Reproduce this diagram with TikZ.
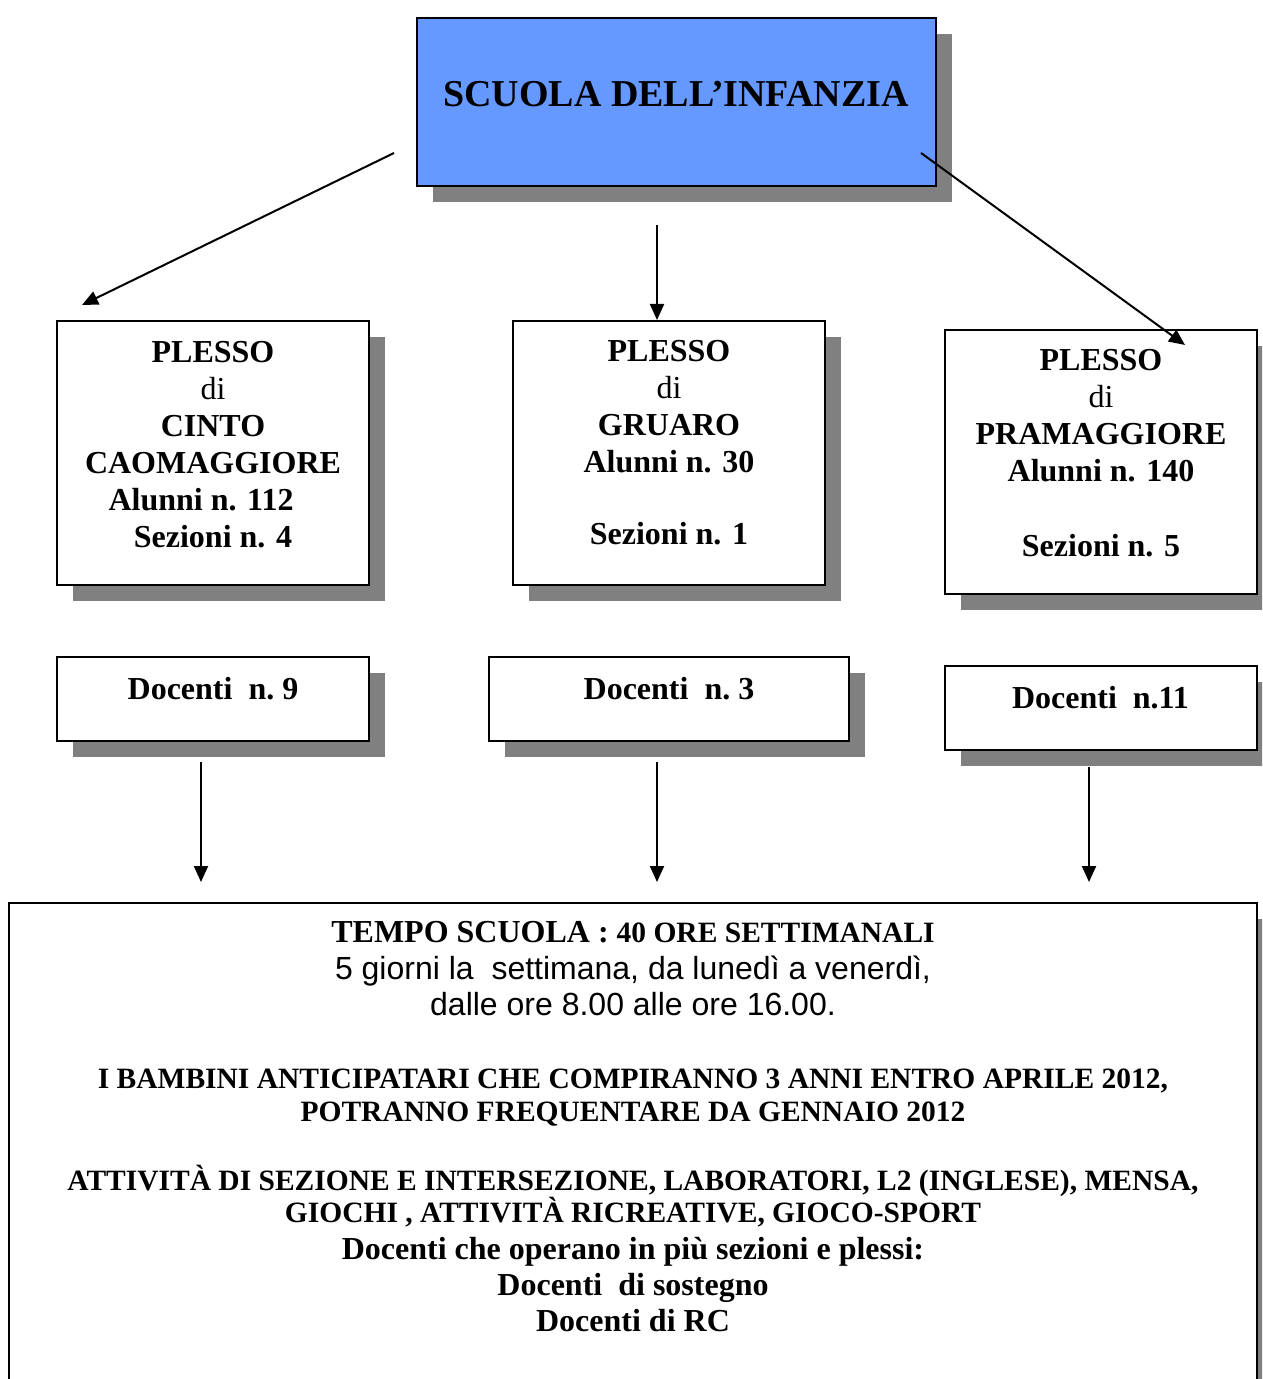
\documentclass[tikz,border=0pt]{standalone}
\usepackage{fontspec}
\setmainfont{Liberation Serif}
\newfontfamily\arialf{Liberation Sans}
\usetikzlibrary{arrows.meta,shadows}
\definecolor{topblue}{RGB}{102,153,255}
\definecolor{shgray}{RGB}{128,128,128}
\tikzset{
  boxnode/.style={draw, line width=1pt, fill=white, inner sep=0pt, rectangle,
    drop shadow={shadow xshift=8pt, shadow yshift=-8pt, fill=shgray, opacity=1}},
  txt/.style={inner sep=0pt, align=center, anchor=base,
    font=\fontsize{16}{18.5}\selectfont\bfseries},
  conn/.style={line width=1pt, -{Triangle[length=8pt,width=7pt]}},
}
\begin{document}
\begin{tikzpicture}[x=0.5pt, y=-0.5pt]
\path[use as bounding box, clip] (0,0) rectangle (1262,1379);
\fill[white] (0,0) rectangle (1262,1379);

% top box
\node[boxnode, fill=topblue, minimum width=259.5pt, minimum height=84pt] (top) at (676.5,102) {};
\node[txt, font=\fontsize{19}{22}\selectfont\bfseries] (topt) at (676,107) {SCUOLA DELL’INFANZIA};

% plesso boxes
\node[boxnode, minimum width=156pt, minimum height=132pt] (p1) at (213,453) {};
\node[boxnode, minimum width=156pt, minimum height=132pt] (p2) at (669,453) {};
\node[boxnode, minimum width=156pt, minimum height=132pt] (p3) at (1101,462) {};

% (anchor=base of a multi-line node = baseline of its last line)
\node[txt] (p1t) at (213,547) {PLESSO\\{\mdseries di}\\CINTO\\CAOMAGGIORE\\Alunni n. 112\kern12pt\relax\\Sezioni n. 4};
\node[txt] (p2t) at (669,544) {PLESSO\\{\mdseries di}\\GRUARO\\Alunni n. 30\\[17.5pt]Sezioni n. 1};
\node[txt] (p3t) at (1101,556) {PLESSO\\{\mdseries di}\\PRAMAGGIORE\\Alunni n. 140\\[19pt]Sezioni n. 5};

% docenti boxes
\node[boxnode, minimum width=156pt, minimum height=42pt] (d1) at (213,699) {};
\node[boxnode, minimum width=180pt, minimum height=42pt] (d2) at (669,699) {};
\node[boxnode, minimum width=156pt, minimum height=42pt] (d3) at (1101,708) {};

\node[txt] (d1t) at (213,699.5) {Docenti~~n.~9};
\node[txt] (d2t) at (669,699.5) {Docenti~~n.~3};
\node[txt] (d3t) at (1100.5,708.5) {Docenti~~n.11};

% bottom box
\node[boxnode, minimum width=624pt, minimum height=258.5pt] (bt) at (633,1161.5) {};
\node[txt] (btt) at (633,1331) {%
{\fontsize{16}{18.5}\selectfont TEMPO SCUOLA : }{\fontsize{14.75}{16}\selectfont 40 ORE SETTIMANALI}\\
{\arialf\mdseries 5 giorni la\ \ settimana, da lunedì a venerdì,}\\[-0.5pt]
{\arialf\mdseries dalle ore 8.00 alle ore 16.00.}\\[18pt]
{\fontsize{14.75}{16}\selectfont I BAMBINI ANTICIPATARI CHE COMPIRANNO 3 ANNI ENTRO APRILE 2012,}\\[-2pt]
{\fontsize{14.75}{16}\selectfont POTRANNO FREQUENTARE DA GENNAIO 2012}\\[16pt]
{\fontsize{14.75}{16}\selectfont ATTIVITÀ DI SEZIONE E INTERSEZIONE, LABORATORI, L2 (INGLESE), MENSA,}\\[-2.5pt]
{\fontsize{14.75}{16}\selectfont GIOCHI , ATTIVITÀ RICREATIVE, GIOCO-SPORT}\\
Docenti che operano in più sezioni e plessi:\\[-0.5pt]
Docenti\ \ di sostegno\\[-0.5pt]
Docenti di RC};

% connectors
\coordinate (a1s) at (394,153);  \coordinate (a1e) at (82,305);
\coordinate (a2s) at (657,225);  \coordinate (a2e) at (657,320);
\coordinate (a3s) at (921,153);  \coordinate (a3e) at (1185,345);
\coordinate (a4s) at (201,762);  \coordinate (a4e) at (201,882);
\coordinate (a5s) at (657,762);  \coordinate (a5e) at (657,882);
\coordinate (a6s) at (1089,767); \coordinate (a6e) at (1089,882);

\draw[conn] (a1s) -- (a1e);
\draw[conn] (a2s) -- (a2e);
\draw[conn] (a3s) -- (a3e);
\draw[conn] (a4s) -- (a4e);
\draw[conn] (a5s) -- (a5e);
\draw[conn] (a6s) -- (a6e);
\end{tikzpicture}
\end{document}
